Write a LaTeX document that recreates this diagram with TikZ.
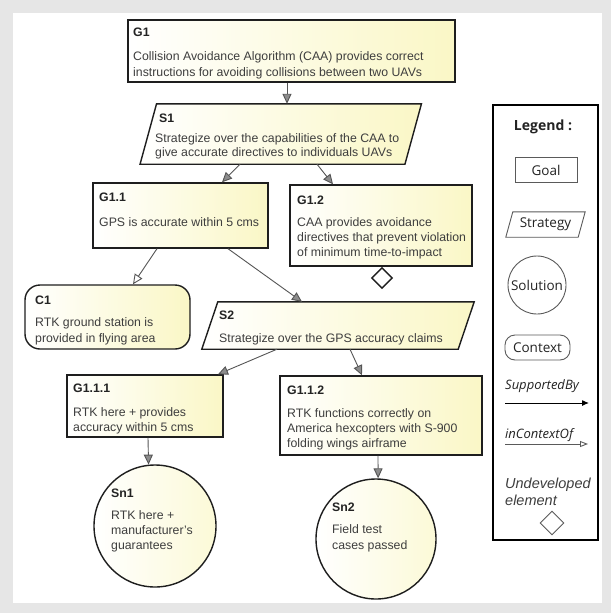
\documentclass[tikz,border=0pt]{standalone}
\usepackage{fontspec}
\setmainfont{Liberation Sans}
\newfontfamily\legfont{Open Sans}
\usetikzlibrary{arrows.meta,calc,shapes.geometric}
\definecolor{bggrey}{RGB}{230,230,230}
\definecolor{boxyel}{RGB}{250,247,198}
\definecolor{boxline}{RGB}{30,30,30}
\definecolor{txt}{RGB}{62,62,62}
\definecolor{txtdark}{RGB}{35,35,35}
\definecolor{arrline}{RGB}{85,85,85}
\definecolor{arrfill}{RGB}{140,140,140}
\definecolor{legline}{RGB}{90,90,90}
\begin{document}
\begin{tikzpicture}[x=1pt,y=-1pt,
  boxshade/.style={left color=white,right color=boxyel},
  goalbox/.style={rectangle,draw=boxline,line width=1.4pt,boxshade,inner sep=0pt},
  framebox/.style={rectangle,inner sep=0pt},
  stratpath/.style={draw=boxline,line width=1.4pt,boxshade},
  solbox/.style={circle,draw=boxline,line width=1.4pt,left color=white,right color=boxyel!70,inner sep=0pt},
  lab/.style={anchor=base west,inner sep=0pt,font=\fontsize{12.3}{15}\selectfont\bfseries,text=txtdark},
  body/.style={anchor=base west,inner sep=0pt,font=\fontsize{12.3}{15}\selectfont,text=txt},
  sup/.style={draw=arrline,line width=0.9pt,-{Triangle[length=10pt,width=9pt,fill=arrfill]}},
  ctx/.style={draw=arrline,line width=0.9pt,-{Triangle[length=10pt,width=9pt,fill=white]}},
  legshape/.style={draw=legline,line width=0.9pt,inner sep=0pt,font=\legfont\fontsize{13.5}{16}\selectfont,text=txtdark},
  legital/.style={anchor=base west,inner sep=0pt,font=\legfont\itshape\fontsize{13}{15}\selectfont,text=txtdark},
]
% background
\path[fill=bggrey] (0,0) rectangle (611,613);
\path[fill=white] (13,13) rectangle (602,603);
\useasboundingbox (0,0) rectangle (611,613);

% G1
\node[goalbox,minimum width=327pt,minimum height=62pt] (G1) at (291.5,51) {};
\node[lab] (G1l) at (133,36) {G1};
\node[body] (G1a) at (133,60) {Collision Avoidance Algorithm (CAA) provides correct};
\node[body] (G1b) at (133,76) {instructions for avoiding collisions between two UAVs};

% S1
\node[framebox,minimum width=264.5pt,minimum height=60pt] (S1) at (280.75,134) {};
\path[stratpath] ([xshift=8.25pt]S1.north west) -- ([xshift=8.25pt]S1.north east)
  -- ([xshift=-8.25pt]S1.south east) -- ([xshift=-8.25pt]S1.south west) -- cycle;
\node[lab] (S1l) at (159,122) {S1};
\node[body] (S1a) at (155,142) {Strategize over the capabilities of the CAA to};
\node[body] (S1b) at (155,156) {give accurate directives to individuals UAVs};

% G1.1
\node[goalbox,minimum width=175pt,minimum height=65pt] (G11) at (180.5,215.5) {};
\node[lab] (G11l) at (99,201) {G1.1};
\node[body] (G11a) at (99,226) {GPS is accurate within 5 cms};

% G1.2
\node[goalbox,minimum width=182pt,minimum height=81pt] (G12) at (381,225.5) {};
\node[lab] (G12l) at (297,204) {G1.2};
\node[body] (G12a) at (297,226) {CAA provides avoidance};
\node[body] (G12b) at (297,241) {directives that prevent violation};
\node[body] (G12c) at (297,256) {of minimum time-to-impact};
\node[diamond,draw=boxline,line width=1.4pt,fill=white,minimum size=21pt,inner sep=0pt] (U12) at (382,278) {};

% C1
\node[goalbox,rounded corners=15pt,minimum width=165pt,minimum height=64pt] (C1) at (107.5,317) {};
\node[lab] (C1l) at (35,304) {C1};
\node[body] (C1a) at (35,326) {RTK ground station is};
\node[body] (C1b) at (35,342) {provided in flying area};

% S2
\node[framebox,minimum width=256pt,minimum height=47pt] (S2) at (338,325.5) {};
\path[stratpath] ([xshift=8pt]S2.north west) -- ([xshift=8pt]S2.north east)
  -- ([xshift=-8pt]S2.south east) -- ([xshift=-8pt]S2.south west) -- cycle;
\node[lab] (S2l) at (219,319) {S2};
\node[body] (S2a) at (219,342) {Strategize over the GPS accuracy claims};

% G1.1.1
\node[goalbox,minimum width=156pt,minimum height=62pt] (G111) at (145,406) {};
\node[lab] (G111l) at (73,392) {G1.1.1};
\node[body] (G111a) at (73,416) {RTK here + provides};
\node[body] (G111b) at (73,431) {accuracy within 5 cms};

% G1.1.2
\node[goalbox,minimum width=202pt,minimum height=79pt] (G112) at (381,415.5) {};
\node[lab] (G112l) at (287,394) {G1.1.2};
\node[body] (G112a) at (287,417) {RTK functions correctly on};
\node[body] (G112b) at (287,432) {America hexcopters with S-900};
\node[body] (G112c) at (287,447) {folding wings airframe};

% Sn1
\node[solbox,minimum size=122pt] (Sn1) at (155,526) {};
\node[lab] (Sn1l) at (111,497) {Sn1};
\node[body] (Sn1a) at (111,519) {RTK here +};
\node[body] (Sn1b) at (111,534) {manufacturer's};
\node[body] (Sn1c) at (111,549) {guarantees};

% Sn2
\node[solbox,minimum size=120pt] (Sn2) at (376,539) {};
\node[lab] (Sn2l) at (332,511) {Sn2};
\node[body] (Sn2a) at (332,533) {Field test};
\node[body] (Sn2b) at (332,549) {cases passed};

% connectors
\draw[sup] ($(G1.south)+(-4.5,0)$) -- ($(S1.north)+(6.25,0)$);
\draw[sup] ($(S1.south)+(-40.75,0)$) -- ($(G11.north)+(41.5,0)$);
\draw[sup] ($(S1.south)+(36.25,0)$) -- ($(G12.north)+(-48,0)$);
\draw[ctx] ($(G11.south)+(-23.5,0)$) -- ($(C1.north)+(25.5,0)$);
\draw[sup] ($(G11.south)+(47.5,0)$) -- ($(S2.north)+(-36,0)$);
\draw[sup] ($(S2.south)+(-61,0)$) -- ($(G111.north)+(73,0)$);
\draw[sup] ($(S2.south)+(12,0)$) -- ($(G112.north)+(-19,0)$);
\draw[sup] ($(G111.south)+(3,0)$) -- (Sn1.96.6);
\draw[sup] ($(G112.south)+(-3,0)$) -- (Sn2.88.1);

% legend
\node[rectangle,draw=black,line width=2.2pt,fill=white,minimum width=105pt,minimum height=435pt,inner sep=0pt] (Leg) at (545.5,322.5) {};
\node[inner sep=0pt,font=\legfont\bfseries\fontsize{14}{16}\selectfont,text=txtdark] (LegT) at (543,127) {Legend :};
\node[legshape,rectangle,minimum width=62pt,minimum height=25pt] (LGoal) at (546,170) {Goal};
\node[framebox,minimum width=72pt,minimum height=25pt,font=\legfont\fontsize{13.5}{16}\selectfont,text=txtdark] (LStr) at (545.5,224.5) {Strategy};
\path[draw=legline,line width=0.9pt] ([xshift=3.5pt]LStr.north west) -- ([xshift=3.5pt]LStr.north east)
  -- ([xshift=-3.5pt]LStr.south east) -- ([xshift=-3.5pt]LStr.south west) -- cycle;
\node[legshape,circle,minimum size=58pt] (LSol) at (537,285) {Solution};
\node[legshape,rectangle,rounded corners=10pt,minimum width=65pt,minimum height=25pt] (LCtx) at (537.5,347.5) {Context};
\node[legital] (LSup) at (505,389) {SupportedBy};
\coordinate (LSa) at (505,403);
\coordinate (LSb) at (589,403);
\draw[black,line width=1pt,-{Latex[length=7pt,width=6pt]}] (LSa) -- (LSb);
\node[legital] (LCo) at (505,438) {inContextOf};
\coordinate (LCa) at (505,444);
\coordinate (LCb) at (588,444);
\draw[legline,line width=0.9pt,-{Triangle[length=8pt,width=6pt,fill=white]}] (LCa) -- (LCb);
\node[anchor=base west,inner sep=0pt,font=\fontsize{14.5}{17}\selectfont\itshape,text=txt] (LUa) at (505,488) {Undeveloped};
\node[anchor=base west,inner sep=0pt,font=\fontsize{14.5}{17}\selectfont\itshape,text=txt] (LUb) at (505,505) {element};
\node[diamond,draw=legline,line width=0.9pt,minimum size=24pt,inner sep=0pt] (LDia) at (552,523) {};
\end{tikzpicture}
\end{document}
